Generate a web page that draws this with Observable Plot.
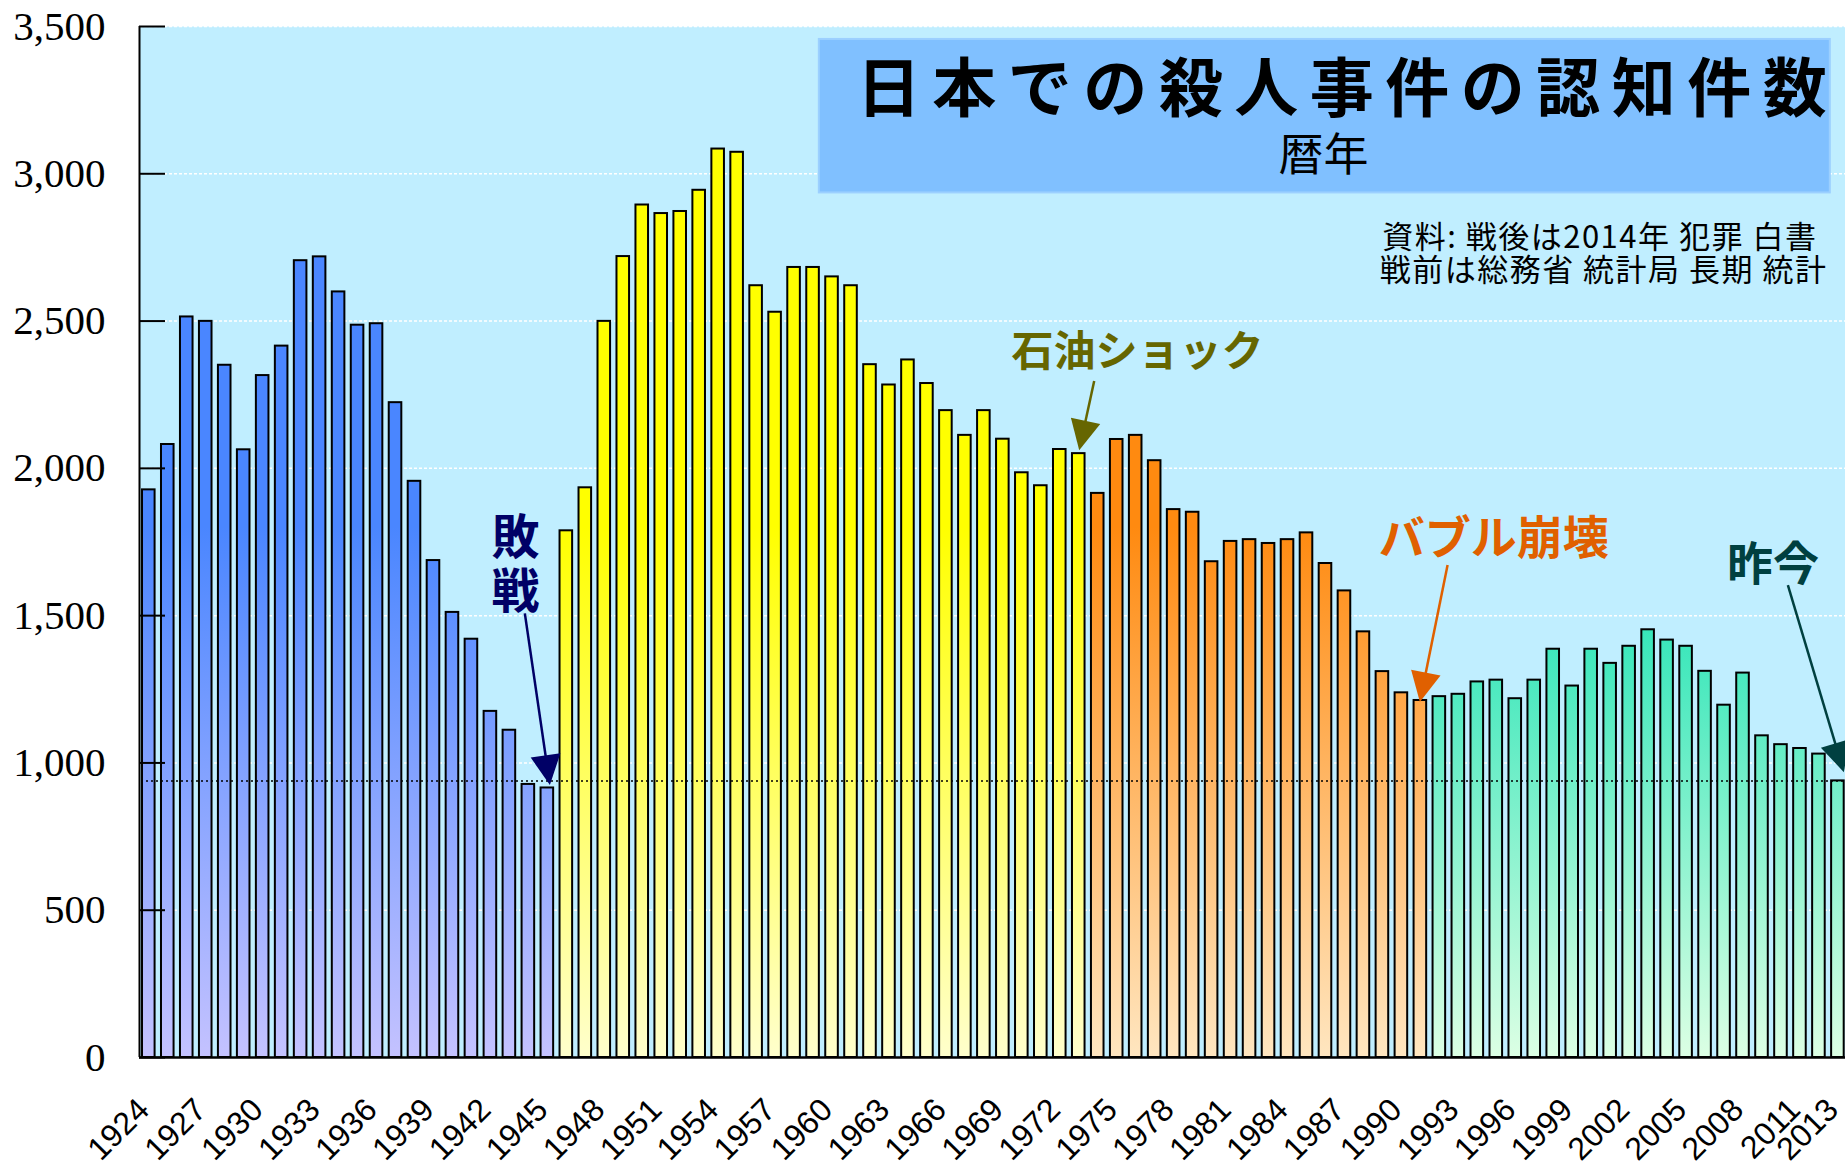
<!DOCTYPE html>
<html><head><meta charset="utf-8">
<script src="https://cdn.jsdelivr.net/npm/d3@7"></script>
<script src="https://cdn.jsdelivr.net/npm/@observablehq/plot@0.6"></script>
<style>
html,body{margin:0;padding:0;background:#fff;}
#chart svg{display:block;}
</style></head><body><div id="chart"></div>
<script>
// ---- data ----
const years = [1924,1925,1926,1927,1928,1929,1930,1931,1932,1933,1934,1935,1936,1937,1938,1939,1940,1941,1942,1943,1944,1945,
  1946,1947,1948,1949,1950,1951,1952,1953,1954,1955,1956,1957,1958,1959,1960,1961,1962,1963,1964,1965,1966,1967,1968,1969,1970,1971,1972,1973,
  1974,1975,1976,1977,1978,1979,1980,1981,1982,1983,1984,1985,1986,1987,1988,1989,1990,1991,
  1992,1993,1994,1995,1996,1997,1998,1999,2000,2001,2002,2003,2004,2005,2006,2007,2008,2009,2010,2011,2012,2013];
const murders = [1927,2081,2514,2499,2350,2063,2315,2415,2705,2718,2599,2486,2491,2223,1956,1687,1511,1420,1175,1111,927,915,
  1788,1934,2499,2719,2894,2865,2872,2944,3084,3073,2620,2530,2682,2682,2650,2620,2352,2283,2368,2288,2196,2112,2196,2099,1985,1941,2064,2050,
  1915,2098,2112,2026,1860,1851,1683,1752,1758,1745,1758,1781,1677,1584,1445,1310,1238,1212,
  1225,1233,1275,1281,1218,1281,1386,1261,1386,1338,1396,1452,1417,1396,1311,1196,1305,1092,1062,1049,1030,939];
const eraStart = [1924, 1946, 1974, 1992];
const eraEnd   = [1945, 1973, 1991, 2013];
const eraTop    = ["#4a86ff", "#ffff00", "#ff8a10", "#10e0b0"];
const eraBottom = ["#c4c2ff", "#ffffcc", "#ffe6c0", "#dcffe4"];
const yTicks = [0, 500, 1000, 1500, 2000, 2500, 3000, 3500];
const xTickLabels = [1924,1927,1930,1933,1936,1939,1942,1945,1948,1951,1954,1957,1960,1963,1966,1969,1972,1975,1978,1981,1984,1987,1990,1993,1996,1999,2002,2005,2008,2011,2013];

const titleText = "日本での殺人事件の認知件数";
const subtitleText = "暦年";
const sourceLines = ["資料: 戦後は2014年 犯罪 白書", "戦前は総務省 統計局 長期 統計"];

// annotation labels and arrows (anchored in data space)
const annoLabels = ["敗\n戦", "石油ショック", "バブル崩壊", "昨今"];
const annoColors = ["#000066", "#666600", "#e06000", "#004040"];
const annoTextYear  = [1943.32, 1976.1, 1994.87, 2009.58];
const annoTextValue = [1676, 2400, 1766, 1678];
const arrowFromYear  = [1943.84, 1973.84, 1992.46, 2010.39];
const arrowFromValue = [1506, 2295, 1670, 1602];
const arrowToYear    = [1945.16, 1973.05, 1991.0, 2013.34];
const arrowToValue   = [923, 2060, 1205, 967];

const titleBoxYears  = [1959.33, 2012.6];
const titleBoxValues = [2935, 3456];

// ---- build ----
const data = years.map((year, i) => ({year, value: murders[i]}));
const xDomain = [1923.51, 2013.4];

const defsMark = (index, scales) => {
  const defs = d3.create("svg:defs");
  eraStart.forEach((s, i) => {
    const g = defs.append("linearGradient").attr("id", "era-grad-" + i)
      .attr("gradientUnits", "userSpaceOnUse")
      .attr("x1", 0).attr("x2", 0)
      .attr("y1", scales.y(1800)).attr("y2", scales.y(0));
    g.append("stop").attr("offset", 0).attr("stop-color", eraTop[i]);
    g.append("stop").attr("offset", 1).attr("stop-color", eraBottom[i]);
  });
  return defs.node();
};

const arrowsMark = (index, scales) => {
  const g = d3.create("svg:g");
  annoLabels.forEach((lab, i) => {
    const x1 = scales.x(arrowFromYear[i]), y1 = scales.y(arrowFromValue[i]);
    const x2 = scales.x(arrowToYear[i]), y2 = scales.y(arrowToValue[i]);
    const L = Math.hypot(x2 - x1, y2 - y1), ux = (x2 - x1) / L, uy = (y2 - y1) / L;
    const hl = 30, hw = 15;
    const bx = x2 - ux * hl, by = y2 - uy * hl;
    g.append("line").attr("x1", x1).attr("y1", y1).attr("x2", bx + ux * 2).attr("y2", by + uy * 2)
      .attr("stroke", annoColors[i]).attr("stroke-width", 2.5);
    g.append("polygon")
      .attr("points", `${x2},${y2} ${bx - uy * hw},${by + ux * hw} ${bx + uy * hw},${by - ux * hw}`)
      .attr("fill", annoColors[i]);
  });
  return g.node();
};

const barMarks = eraStart.map((s, i) => Plot.rectY(
  data.filter(d => d.year >= s && d.year <= eraEnd[i]),
  {x1: d => d.year - 0.5, x2: d => d.year + 0.5, y: "value",
   insetLeft: 3.2, insetRight: 3.2,
   fill: `url(#era-grad-${i})`, stroke: "black", strokeWidth: 2}
));

const cjk = "'Noto Sans CJK JP', sans-serif";

const plot = Plot.plot({
  width: 1845, height: 1167,
  marginLeft: 139, marginRight: 0, marginTop: 26, marginBottom: 110,
  style: {background: "white", overflow: "visible"},
  x: {type: "linear", domain: xDomain},
  y: {domain: [0, 3500]},
  marks: [
    Plot.frame({fill: "#c0eeff", stroke: null}),
    defsMark,
    Plot.ruleY(yTicks, {stroke: "white", strokeWidth: 1.5, strokeDasharray: "3,2"}),
    ...barMarks,
    Plot.ruleY([murders[murders.length - 1]], {stroke: "black", strokeWidth: 1.5, strokeDasharray: "2,3", insetLeft: 7}),
    Plot.ruleY(yTicks, {stroke: "black", strokeWidth: 2, insetRight: 1845 - 139 - 26}),
    Plot.ruleX([xDomain[0]], {stroke: "black", strokeWidth: 2}),
    Plot.ruleY([0], {stroke: "black", strokeWidth: 2.5}),
    Plot.axisY({ticks: yTicks, tickSize: 0, tickPadding: 34, tickFormat: d3.format(","),
      fontSize: 41, fontFamily: "'Liberation Serif', serif", fill: "black", label: null}),
    Plot.axisX({ticks: xTickLabels, tickSize: 0, tickPadding: 47, tickRotate: -45, dx: -5,
      tickFormat: d => String(d), fontSize: 32, fontFamily: "'Liberation Sans', sans-serif", fill: "black", label: null}),
    // title box
    Plot.rect([0], {x1: () => titleBoxYears[0], x2: () => titleBoxYears[1], y1: () => titleBoxValues[0], y2: () => titleBoxValues[1],
      fill: "#80c0ff", stroke: "#9cd0ff", strokeWidth: 2}),
    Plot.text([titleText], {x: () => (titleBoxYears[0] + titleBoxYears[1]) / 2 + 1.2, y: () => 3282, text: d => d,
      fontSize: 64, fontWeight: "bold", fontFamily: cjk, fill: "black", lineAnchor: "middle", className: "title-text"}),
    Plot.text([subtitleText], {x: () => 1985.9, y: () => 3060, text: d => d,
      fontSize: 45, fontFamily: cjk, fill: "black", lineAnchor: "middle"}),
    Plot.text(sourceLines, {x: (d, i) => [2011.92, 2012.45][i], y: (d, i) => [2781, 2670][i], text: d => d,
      fontSize: 31, fontFamily: cjk, fill: "black", textAnchor: "end", lineAnchor: "middle", className: "source-text"}),
    // annotations
    arrowsMark,
    Plot.text(annoLabels, {x: (d, i) => annoTextYear[i], y: (d, i) => annoTextValue[i], text: d => d,
      fill: (d, i) => annoColors[i], fontSize: (d, i) => [48, 42, 46, 46][i], fontWeight: "bold",
      fontFamily: cjk, lineAnchor: "middle", lineHeight: 1.12})
  ]
});
// widen the title's letter spacing and the source lines' spacing like the reference
d3.select(plot).selectAll(".title-text text").attr("letter-spacing", 11.5);
d3.select(plot).selectAll(".source-text text").attr("letter-spacing", 1.5);
document.getElementById("chart").appendChild(plot);
</script>
</body></html>
